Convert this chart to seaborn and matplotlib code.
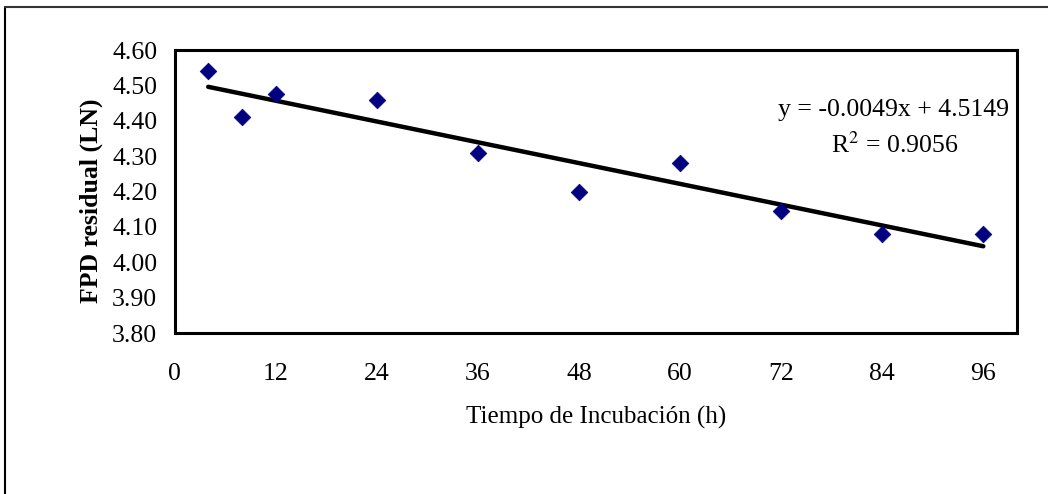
import numpy as np
import pandas as pd
import seaborn as sns
import matplotlib.pyplot as plt
from matplotlib.lines import Line2D

# ------------------------------------------------------------------
# data
# ------------------------------------------------------------------
tiempo = [4, 8, 12, 24, 36, 48, 60, 72, 84, 96]
fpd_ln = [4.54, 4.41, 4.475, 4.46, 4.31, 4.20, 4.28, 4.145, 4.08, 4.08]
x_ticks = [0, 12, 24, 36, 48, 60, 72, 84, 96]
y_ticks = [3.80, 3.90, 4.00, 4.10, 4.20, 4.30, 4.40, 4.50, 4.60]
eq_text = "y = -0.0049x + 4.5149"
r2_text = "R$^2$ = 0.9056"

df = pd.DataFrame({"tiempo": tiempo, "fpd": fpd_ln})

sns.set_theme(style="white")
plt.rcParams["font.family"] = ["Liberation Serif", "DejaVu Serif"]
plt.rcParams["mathtext.fontset"] = "stix"
plt.rcParams["text.color"] = "black"
plt.rcParams["axes.labelcolor"] = "black"
FS = 18.5

fig = plt.figure(figsize=(10.48, 4.94), dpi=100)
ax = fig.add_axes([174.5 / 1048, 1 - 333 / 494, (1017 - 174.5) / 1048, (333 - 50) / 494])

# trendline (linear fit over data range) then the points
sns.regplot(data=df, x="tiempo", y="fpd", ax=ax, scatter=False, ci=None,
            truncate=True, line_kws={"color": "black", "lw": 3.2, "zorder": 2})
sns.scatterplot(data=df, x="tiempo", y="fpd", ax=ax, marker="D", s=72,
                color="#000080", edgecolor="#000080", linewidth=0.5, zorder=3)

ax.set_xlim(0, 100)
ax.set_ylim(3.8, 4.6)
ax.set_xticks(x_ticks)
ax.set_yticks(y_ticks)
ax.set_yticklabels([f"{v:.2f}" for v in y_ticks])
ax.tick_params(axis="both", labelsize=FS, colors="black", labelcolor="black",
               direction="out", width=0.8, length=5.5)
ax.tick_params(axis="x", pad=16)
ax.tick_params(axis="y", pad=6, length=6.5)
for side in ["left", "bottom", "right", "top"]:
    ax.spines[side].set_color("black")
    ax.spines[side].set_linewidth(2.2)

ax.set_xlabel("Tiempo de Incubación (h)", fontsize=18, va="center", color="black")
ax.xaxis.set_label_coords(0.5, -0.300)
ax.set_ylabel("FPD residual (LN)", fontsize=FS, fontweight="bold", va="center",
              color="black")
ax.yaxis.set_label_coords(-0.099, 0.466)

ax.text(0.854, 0.788, eq_text, transform=ax.transAxes, fontsize=FS,
        ha="center", va="center", color="black")
ax.text(0.855, 0.664, r2_text, transform=ax.transAxes, fontsize=FS,
        ha="center", va="center", color="black")

# outer chart-area frame (only left and top edges show in the crop)
fig.add_artist(Line2D([4.5 / 1048, 4.5 / 1048], [0, 1 - 7 / 494],
                      transform=fig.transFigure, color="black", lw=1.5))
fig.add_artist(Line2D([4.5 / 1048, 1], [1 - 7 / 494, 1 - 7 / 494],
                      transform=fig.transFigure, color="#333333", lw=1.5))

plt.savefig("out.png", dpi=100)
